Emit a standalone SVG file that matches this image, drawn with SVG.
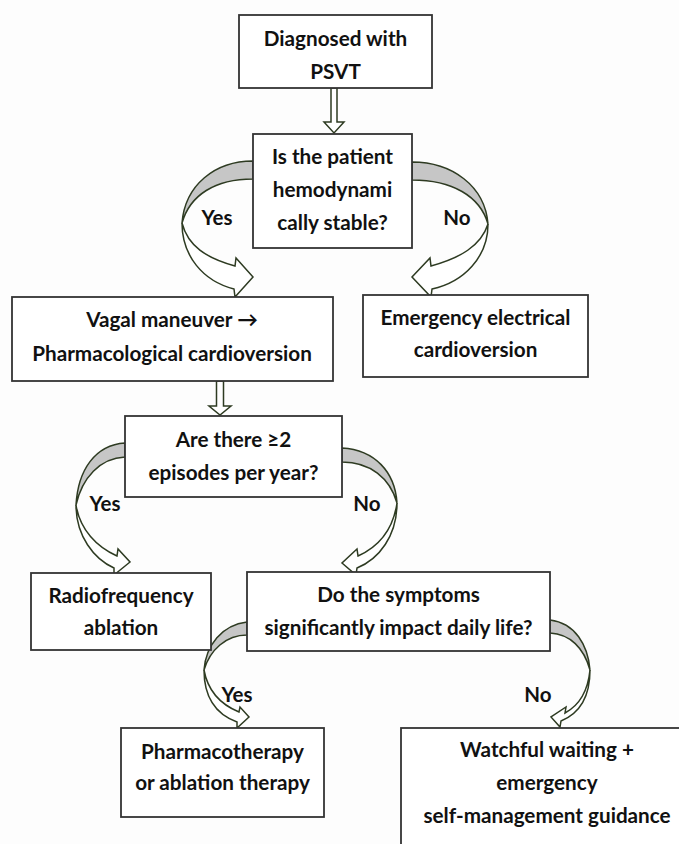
<svg xmlns="http://www.w3.org/2000/svg" width="679" height="844" viewBox="0 0 679 844">
<style>
.box{fill:#fff;stroke:#333;stroke-width:1.8}
.t{font-family:Lato,"Open Sans",sans-serif;font-weight:700;font-size:20.7px;fill:#111;text-anchor:middle}
.lbl{font-family:Lato,"Open Sans",sans-serif;font-weight:700;font-size:20.5px;fill:#111;text-anchor:middle}
.tw{fill:#c6c6c6;stroke:#2e3b22;stroke-width:1.5;stroke-linejoin:round}
.ar{fill:#fff;stroke:#2e3b22;stroke-width:1.5;stroke-linejoin:miter}
</style>
<rect width="679" height="844" fill="#fdfdfd"/>
<g id="connectors">
  <path class="ar" d="M331,88 L331,122 L324,122 L334,133 L344,122 L337,122 L337,88 Z"/>
  <path class="ar" d="M216.5,381 L216.5,406 L209,406 L220,415 L231,406 L223.5,406 L223.5,381 Z"/>
  <!-- Yes top -->
  <path class="tw" d="M253,161 C215,161 185,185 182,223 C190,195 215,179 253,179 Z"/>
  <path class="ar" d="M182,223 C182,256 203,281 234,289 L235,297 L253,277 L236,258 L235,266 C206,258 188,246 182,223 Z"/>
  <!-- No top -->
  <path class="tw" d="M412,162 C452,162 485,186 488,224 C480,196 452,180 412,180 Z"/>
  <path class="ar" d="M488,224 C488,257 464,282 432,289 L431,297 L412,277 L430,258 L431,266 C460,258 481,246 488,224 Z"/>
  <!-- Yes middle -->
  <path class="tw" d="M125,443 C95,445 78,470 76,505 C82,478 100,458 125,457 Z"/>
  <path class="ar" d="M76,505 C76,536 94,559 114,568 L114,575 L130,562 L118,549 L117,556 C97,547 80,530 76,505 Z"/>
  <!-- No middle -->
  <path class="tw" d="M342,448 C375,450 395,472 397,503 C390,478 370,462 342,462 Z"/>
  <path class="ar" d="M397,503 C397,536 379,559 357,568 L356,575 L342,563 L357,549 L358,556 C378,547 393,530 397,503 Z"/>
  <!-- Yes bottom -->
  <path class="tw" d="M247,622 C222,625 206,645 204,670 C210,650 226,635 247,635 Z"/>
  <path class="ar" d="M204,670 C204,700 218,715 237,722 L237,728 L249,717 L240,707 L239,712 C222,705 208,692 204,670 Z"/>
  <!-- No bottom -->
  <path class="tw" d="M550,620 C575,623 588,645 590,670 C584,648 570,634 550,633 Z"/>
  <path class="ar" d="M590,670 C590,698 578,714 561,721 L560,727 L551,717 L566,707 L565,713 C580,705 588,690 590,670 Z"/>
</g>
<g id="labels">
  <text class="lbl" x="217" y="225">Yes</text>
  <text class="lbl" x="457" y="225">No</text>
  <text class="lbl" x="105" y="511">Yes</text>
  <text class="lbl" x="367" y="511">No</text>
  <text class="lbl" x="237" y="702">Yes</text>
  <text class="lbl" x="538" y="702">No</text>
</g>
<g id="n1"><rect class="box" x="239" y="15" width="193" height="73"/>
  <text class="t" x="335.5" y="46">Diagnosed with</text><text class="t" x="335.5" y="79">PSVT</text></g>
<g id="n2"><rect class="box" x="253" y="134" width="159" height="114"/>
  <text class="t" x="332.5" y="164">Is the patient</text><text class="t" x="332.5" y="197">hemodynami</text><text class="t" x="332.5" y="230">cally stable?</text></g>
<g id="n3"><rect class="box" x="12" y="297" width="321" height="84"/>
  <text class="t" x="172" y="327">Vagal maneuver →</text><text class="t" x="172" y="361">Pharmacological cardioversion</text></g>
<g id="n4"><rect class="box" x="363" y="295" width="225" height="82"/>
  <text class="t" x="475.5" y="325">Emergency electrical</text><text class="t" x="475.5" y="357">cardioversion</text></g>
<g id="n5"><rect class="box" x="125" y="416" width="217" height="81"/>
  <text class="t" x="233.5" y="447">Are there ≥2</text><text class="t" x="233.5" y="480">episodes per year?</text></g>
<g id="n6"><rect class="box" x="31" y="573" width="180" height="77"/>
  <text class="t" x="121" y="603">Radiofrequency</text><text class="t" x="121" y="635">ablation</text></g>
<g id="n7"><rect class="box" x="247" y="572" width="303" height="79"/>
  <text class="t" x="398.5" y="602">Do the symptoms</text><text class="t" x="398.5" y="635">significantly impact daily life?</text></g>
<g id="n8"><rect class="box" x="121" y="728" width="203" height="89"/>
  <text class="t" x="222.5" y="759">Pharmacotherapy</text><text class="t" x="222.5" y="790">or ablation therapy</text></g>
<g id="n9"><rect class="box" x="401" y="728" width="300" height="140"/>
  <text class="t" x="547" y="757">Watchful waiting +</text><text class="t" x="547" y="790">emergency</text><text class="t" x="547" y="823">self-management guidance</text></g>
</svg>
